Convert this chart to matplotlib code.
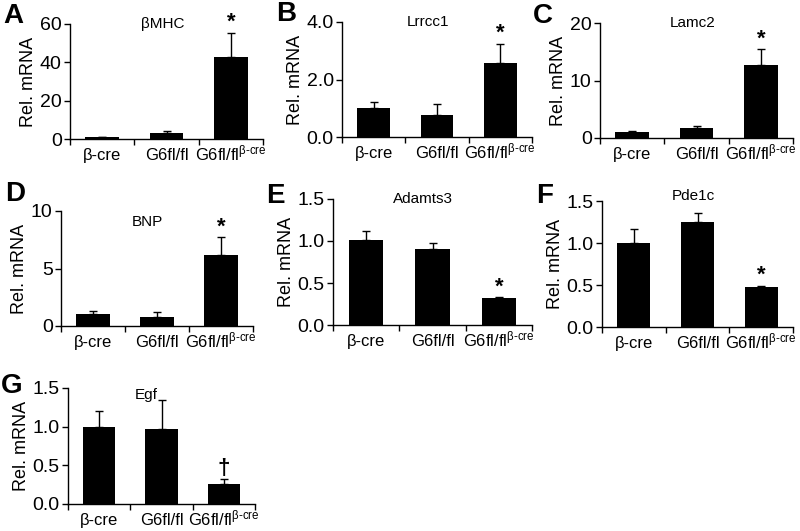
import matplotlib
matplotlib.use('Agg')
from matplotlib import pyplot as plt

plt.rcParams['font.family'] = ['Liberation Sans', 'DejaVu Sans']
plt.rcParams['mathtext.fontset'] = 'custom'
plt.rcParams['mathtext.rm'] = 'Liberation Sans'
plt.rcParams['mathtext.it'] = 'Liberation Sans:italic'

groups = ['β-cre', 'G6fl/fl', 'G6fl/fl$^{\\mathrm{β\\text{-}cre}}$']

letters = ['A', 'B', 'C', 'D', 'E', 'F', 'G']
genes = ['βMHC', 'Lrrcc1', 'Lamc2', 'BNP', 'Adamts3', 'Pde1c', 'Egf']
means = [
    [0.8, 3.1, 42.6],
    [1.01, 0.78, 2.57],
    [1.04, 1.68, 12.75],
    [1.01, 0.81, 6.17],
    [1.01, 0.90, 0.32],
    [1.00, 1.25, 0.48],
    [1.00, 0.97, 0.26],
]
errs = [
    [0.4, 0.9, 12.7],
    [0.21, 0.36, 0.68],
    [0.12, 0.35, 2.65],
    [0.27, 0.44, 1.53],
    [0.11, 0.08, 0.01],
    [0.17, 0.11, 0.01],
    [0.20, 0.38, 0.06],
]
ymax = [60, 4.0, 20, 10, 1.5, 1.5, 1.5]
yticks = [
    [0, 20, 40, 60],
    [0.0, 2.0, 4.0],
    [0, 10, 20],
    [0, 5, 10],
    [0.0, 0.5, 1.0, 1.5],
    [0.0, 0.5, 1.0, 1.5],
    [0.0, 0.5, 1.0, 1.5],
]
ytick_fmt = ['{:.0f}', '{:.1f}', '{:.0f}', '{:.0f}', '{:.1f}', '{:.1f}', '{:.1f}']
marks = ['*', '*', '*', '*', '*', '*', '†']

W, H = 800, 531
# axes box in pixels: left, top, right, bottom
boxes = [
    (70, 24, 263, 139),
    (342, 22, 532, 137),
    (600, 23, 793, 138),
    (61, 211, 253, 326),
    (333, 199, 532, 325),
    (602, 201, 793, 327),
    (68, 388, 255, 504),
]
letter_pos = [(3, 16), (276, 14), (533, 16), (5, 194), (266, 196), (536, 196), (1, 386)]
title_x = [0.48, 0.45, 0.48, 0.45, 0.45, 0.48, 0.42]
title_dy = [0, 0, 0, -11, 0, 5, -7]

fig = plt.figure(figsize=(W / 100, H / 100), dpi=100)

for i in range(7):
    l, t, r, b = boxes[i]
    ax = fig.add_axes([l / W, 1 - b / H, (r - l) / W, (b - t) / H])
    x = range(3)
    ax.bar(x, means[i], width=0.52, color='black')
    ax.errorbar(x, means[i], yerr=[[0, 0, 0], errs[i]], fmt='none',
                ecolor='black', elinewidth=1.0, capsize=3, capthick=1.0)
    ax.set_xlim(-0.5, 2.5)
    ax.set_ylim(0, ymax[i])
    ax.set_yticks(yticks[i])
    ax.set_yticklabels([ytick_fmt[i].format(v) for v in yticks[i]], fontsize=14)
    ax.set_xticks([-0.5, 0.5, 1.5, 2.5])
    ax.set_xticklabels([])
    ax.tick_params(axis='y', length=4, width=1, pad=2, direction='out')
    ax.tick_params(axis='x', length=4, width=1, direction='out')
    for k in range(3):
        ax.annotate(groups[k], xy=(k, 0), xycoords=('data', 'axes fraction'),
                    xytext=(0, -21), textcoords='offset pixels',
                    ha='center', va='baseline', fontsize=12)
    ax.spines['top'].set_visible(False)
    ax.spines['right'].set_visible(False)
    ax.spines['left'].set_linewidth(1)
    ax.spines['bottom'].set_linewidth(1)
    ax.set_ylabel('Rel. mRNA', fontsize=13, labelpad=2)
    ax.annotate(genes[i], xy=(title_x[i], 1.0), xycoords='axes fraction',
                xytext=(0, title_dy[i]), textcoords='offset pixels',
                ha='center', va='center', fontsize=11)
    ax.annotate(marks[i], xy=(2, means[i][2] + errs[i][2]),
                xytext=(0, 0), textcoords='offset points',
                ha='center', va='bottom', fontsize=16, fontweight='bold')
    lx, ly = letter_pos[i]
    fig.text(lx / W, 1 - ly / H, letters[i], fontsize=20, fontweight='bold',
             ha='left', va='center')

fig.savefig('out.png', dpi=100)
